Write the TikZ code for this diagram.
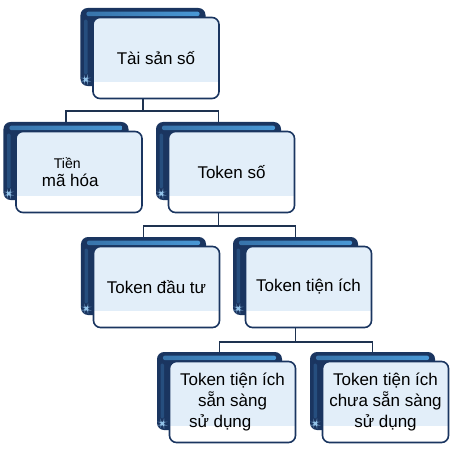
\documentclass[tikz,border=0pt]{standalone}
\usepackage{fontspec}
\setmainfont{Liberation Sans}
\usetikzlibrary{backgrounds}

\definecolor{navy}{HTML}{1A3560}
\definecolor{bandblue}{HTML}{4A9AD8}
\definecolor{paleblue}{HTML}{E2EEF9}
\definecolor{linecol}{HTML}{1E3250}

\tikzset{
  backbox/.style={rounded corners=6pt, fill=navy, minimum width=3.75cm, minimum height=2.34cm,
    path picture={
      \shade[rounded corners=2pt, left color=bandblue!60!navy, right color=bandblue]
        ([xshift=5pt,yshift=-3pt]path picture bounding box.north west) rectangle
        ([xshift=-5pt,yshift=-7pt]path picture bounding box.north east);
      \fill[navy!75!bandblue, rounded corners=1pt]
        ([xshift=3pt,yshift=-10pt]path picture bounding box.north west) rectangle
        ([xshift=6pt,yshift=10pt]path picture bounding box.south west);
      \fill[bandblue!60!white]
        ([xshift=3pt,yshift=4pt]path picture bounding box.south west) rectangle ++(3pt,3pt);
    }},
  frontbox/.style={rounded corners=6pt, draw=navy, line width=1.4pt, fill=paleblue,
    minimum width=3.78cm, minimum height=2.43cm, align=center, text=black,
    font=\fontsize{14.5}{18}\selectfont,
    path picture={
      \fill[white, sharp corners] (path picture bounding box.south west) rectangle
        ([yshift=0.5cm]path picture bounding box.south east);
    }},
  conn/.style={draw=linecol, line width=1.6pt}
}

\begin{document}
\begin{tikzpicture}[x=0.03cm,y=-0.03cm]
\useasboundingbox (0,0) rectangle (459,452);
\foreach \nm/\x/\y/\txt in {ts/143/47/{Tài sản số},
    tien/66/161/{{\fontsize{12}{14}\selectfont Tiền}\hspace*{20pt}\\[-3pt]mã hóa\hspace*{15pt}},
    tok/218.5/161/{Token số},
    dt/143.5/276/{Token đầu tư},
    ti/295.5/276/{Token tiện ích},
    ss/219.5/391/{Token tiện ích\\sẵn sàng\hspace*{24pt}\\sử dụng\hspace*{21pt}},
    cs/372.5/391/{Token tiện ích\\chưa sẵn sàng\\sử dụng}} % edit here for the boxes
{
  \node[backbox] (\nm-b) at (\x,\y) {};
  \node[frontbox] (\nm) at ([xshift=0.39cm,yshift=-0.33cm]\nm-b.center) {\txt};
}
\coordinate (j1) at (143,111);
\coordinate (j2) at (218.5,226);
\coordinate (j3) at (295.5,342);
\begin{scope}[on background layer]
\draw[conn] (ts-b) -- (j1) -| (tien-b.north);
\draw[conn] (j1) -| (tok-b.north);
\draw[conn] (tok-b) -- (j2) -| (dt-b.north);
\draw[conn] (j2) -| (ti-b.north);
\draw[conn] (ti-b) -- (j3) -| (ss-b.north);
\draw[conn] (j3) -| (cs-b.north);
\end{scope}
\end{tikzpicture}
\end{document}
